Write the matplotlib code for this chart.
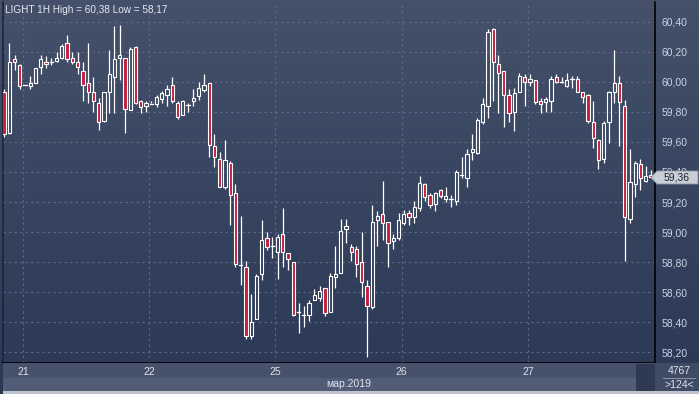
import numpy as np
import matplotlib
matplotlib.use("Agg")
import matplotlib.pyplot as plt
from matplotlib.patches import Rectangle, Polygon

# hourly candles, LIGHT 1H
opens = [59.93, 59.66, 60.15, 60.11, 59.98, 59.975, 59.99, 60.10, 60.135, 60.13,
         60.14, 60.16, 60.26, 60.16, 60.13, 60.075, 59.99, 59.93, 59.86, 59.74,
         59.935, 60.03, 60.16, 60.16, 59.81, 60.23, 59.87, 59.84, 59.855, 59.85,
         59.885, 59.91, 59.98, 59.86, 59.78, 59.845, 59.87, 59.905, 59.945, 59.99,
         59.57, 59.485, 59.30, 59.46, 59.26, 58.78, 58.77, 58.31, 58.42, 58.72,
         58.96, 58.91, 58.87, 58.99, 58.86, 58.80, 58.47, 58.45, 58.45, 58.55,
         58.56, 58.63, 58.47, 58.70, 58.73, 59.02, 58.90, 58.89, 58.80, 58.64,
         58.50, 59.08, 59.12, 59.065, 58.94, 58.96, 59.06, 59.13, 59.10, 59.16,
         59.32, 59.25, 59.19, 59.28, 59.22, 59.22, 59.21, 59.38, 59.36, 59.53,
         59.525, 59.73, 59.84, 60.35, 60.12, 60.07, 59.91, 59.80, 59.935, 60.03,
         60.00, 60.01, 59.875, 59.865, 59.87, 60.03, 60.00, 59.975, 60.02, 60.02,
         59.93, 59.91, 59.735, 59.61, 59.485, 59.73, 59.93, 59.99, 59.84, 59.085,
         59.32, 59.45, 59.34, 59.38]
highs = [59.95, 60.26, 60.18, 60.12, 59.98, 60.04, 60.09, 60.18, 60.17, 60.16,
         60.20, 60.25, 60.31, 60.20, 60.20, 60.135, 60.26, 60.035, 59.89, 59.93,
         60.21, 60.37, 60.38, 60.16, 60.23, 60.24, 59.88, 59.87, 59.87, 59.91,
         59.94, 59.98, 60.035, 59.87, 59.88, 59.86, 59.95, 60.00, 60.05, 59.99,
         59.65, 59.53, 59.61, 59.47, 59.32, 59.11, 58.81, 58.59, 58.72, 59.08,
         59.00, 58.97, 58.99, 59.16, 58.86, 58.80, 58.53, 58.51, 58.55, 58.62,
         58.64, 58.63, 58.73, 58.91, 59.09, 59.09, 58.92, 58.91, 59.00, 58.68,
         59.18, 59.14, 59.34, 59.07, 58.99, 59.13, 59.15, 59.15, 59.21, 59.37,
         59.33, 59.26, 59.27, 59.29, 59.30, 59.25, 59.41, 59.50, 59.55, 59.65,
         59.76, 59.89, 60.35, 60.36, 60.18, 60.07, 59.95, 59.96, 60.06, 60.05,
         60.05, 60.01, 59.89, 59.90, 60.04, 60.05, 60.03, 60.06, 60.04, 60.04,
         59.93, 59.92, 59.87, 59.62, 59.74, 59.94, 60.21, 60.04, 59.88, 59.55,
         59.47, 59.485, 59.44, 59.41]
lows = [59.63, 59.65, 60.08, 59.95, 59.97, 59.95, 59.99, 60.05, 60.09, 60.11,
        60.13, 60.15, 60.135, 60.12, 60.05, 59.87, 59.86, 59.80, 59.68, 59.73,
        59.79, 59.79, 60.01, 59.66, 59.81, 59.85, 59.79, 59.80, 59.85, 59.83,
        59.86, 59.84, 59.86, 59.75, 59.78, 59.80, 59.84, 59.88, 59.935, 59.50,
        59.43, 59.30, 59.29, 59.05, 58.77, 58.65, 58.29, 58.29, 58.42, 58.68,
        58.88, 58.83, 58.69, 58.77, 58.75, 58.44, 58.33, 58.37, 58.41, 58.55,
        58.54, 58.44, 58.47, 58.63, 58.73, 58.93, 58.81, 58.70, 58.57, 58.17,
        58.49, 58.91, 58.95, 58.77, 58.89, 58.95, 59.05, 59.05, 59.06, 59.14,
        59.21, 59.16, 59.14, 59.23, 59.20, 59.165, 59.18, 59.36, 59.30, 59.48,
        59.52, 59.72, 59.76, 59.87, 59.79, 59.70, 59.73, 59.67, 59.93, 59.84,
        59.97, 59.85, 59.79, 59.80, 59.80, 59.99, 59.99, 59.965, 59.96, 59.93,
        59.86, 59.725, 59.56, 59.42, 59.46, 59.59, 59.86, 59.57, 58.81, 59.06,
        59.235, 59.28, 59.335, 59.36]
closes = [59.65, 60.135, 60.13, 59.975, 59.975, 59.99, 60.09, 60.15, 60.118, 60.135,
          60.16, 60.24, 60.15, 60.135, 60.10, 59.98, 59.935, 59.87, 59.735, 59.93,
          60.05, 60.15, 60.18, 59.82, 60.22, 59.86, 59.83, 59.86, 59.86, 59.90,
          59.925, 59.955, 59.875, 59.765, 59.87, 59.845, 59.89, 59.96, 59.98, 59.58,
          59.50, 59.30, 59.48, 59.25, 58.79, 58.78, 58.31, 58.40, 58.71, 58.95,
          58.90, 58.91, 58.97, 58.87, 58.82, 58.45, 58.47, 58.445, 58.53, 58.58,
          58.61, 58.46, 58.71, 58.72, 59.01, 59.04, 58.87, 58.79, 58.67, 58.51,
          59.07, 59.11, 59.06, 58.93, 58.96, 59.08, 59.12, 59.10, 59.165, 59.325,
          59.235, 59.18, 59.26, 59.24, 59.24, 59.22, 59.40, 59.38, 59.52, 59.55,
          59.745, 59.855, 60.335, 60.13, 60.06, 59.91, 59.79, 59.925, 60.04, 60.00,
          60.02, 59.865, 59.855, 59.885, 60.02, 60.00, 60.00, 60.01, 60.02, 59.935,
          59.90, 59.74, 59.625, 59.48, 59.725, 59.935, 59.995, 59.865, 59.10, 59.335,
          59.46, 59.36, 59.37, 59.365]

day_labels = ["21", "22", "25", "26", "27"]
day_start = [4, 28, 52, 76, 100]
price_ticks = [58.2, 58.4, 58.6, 58.8, 59.0, 59.2, 59.4, 59.6, 59.8, 60.0, 60.2, 60.4]
title = "LIGHT 1H High = 60,38 Low = 58,17"
month_label = "мар.2019"
last_price = 59.36

W, H = 699, 394
RED = "#c41e3a"
plt.rcParams['font.family'] = ['Liberation Sans', 'DejaVu Sans']

fig = plt.figure(figsize=(W / 100, H / 100), dpi=100)


def box(x0, y0, x1, y1):
    # pixel box (top-left origin) -> figure fraction rect
    return [x0 / W, 1 - y1 / H, (x1 - x0) / W, (y1 - y0) / H]


# background gradient
bg = fig.add_axes([0, 0, 1, 1])
bg.set_axis_off()
top = np.array([0x45, 0x51, 0x6a]) / 255
bot = np.array([0x2a, 0x38, 0x56]) / 255
t = np.linspace(0, 1, 256)[:, None]
grad = top * (1 - t) + bot * t
bg.imshow(grad[:, None, :].repeat(2, axis=1), aspect="auto", extent=[0, 1, 0, 1])
bg.set_xlim(0, 1)
bg.set_ylim(0, 1)

# main chart
ax = fig.add_axes(box(3, 2, 655, 363))
ax.set_facecolor("none")
n = len(opens)
ax.set_xlim(-0.19, n - 0.24)
ax.set_ylim(58.127, 60.533)

for p in price_ticks:
    ax.axhline(p, color="#5c6b89", lw=0.8, ls=(0, (2, 3)), zorder=1)
for d in day_start:
    ax.axvline(d - 0.4, color="#5c6b89", lw=0.8, ls=(0, (2, 3)), zorder=1)

bw = 0.62
for i in range(n):
    o, h, l, c = opens[i], highs[i], lows[i], closes[i]
    lo_b, hi_b = min(o, c), max(o, c)
    ax.plot([i, i], [hi_b, h], color="white", lw=0.9, zorder=3, solid_capstyle="butt")
    ax.plot([i, i], [l, lo_b], color="white", lw=0.9, zorder=3, solid_capstyle="butt")
    if hi_b - lo_b < 0.008:
        ax.plot([i - bw / 2, i + bw / 2], [o, o], color="white", lw=0.9, zorder=3)
    else:
        fc = RED if c < o else "none"
        ax.add_patch(Rectangle((i - bw / 2, lo_b), bw, hi_b - lo_b, facecolor=fc,
                               edgecolor="white", lw=0.8, zorder=4))

ax.set_xticks([])
ax.set_yticks(price_ticks)
ax.set_yticklabels([f"{p:.2f}".replace(".", ",") for p in price_ticks])
ax.yaxis.tick_right()
ax.tick_params(axis="y", length=0, pad=5, labelsize=7.5, labelcolor="#c9d3e4")
for s in ["top"]:
    ax.spines[s].set_visible(False)
ax.spines["right"].set_color("black")
ax.spines["bottom"].set_color("black")
ax.spines["left"].set_color("#1d2436")
for s in ["right", "bottom", "left"]:
    ax.spines[s].set_linewidth(1.2)

ax.text(0.003, 0.992, title, transform=ax.transAxes, ha="left", va="top",
        fontsize=7.2, color="#e4e8f0")

# last price marker
lbl = fig.add_axes(box(651, 170, 699, 185))
lbl.set_axis_off()
lbl.set_xlim(0, 48)
lbl.set_ylim(0, 15)
lbl.add_patch(Polygon([[0, 7.5], [6, 14], [47, 14], [47, 1], [6, 1]],
                      closed=True, facecolor="#c8cdd6", edgecolor="#8d94a3", lw=0.6))
lbl.text(26, 7.5, f"{last_price:.2f}".replace(".", ","), ha="center", va="center",
         fontsize=7.5, color="#1b2233")

# bottom date strip
strip = fig.add_axes(box(3, 363, 655, 394))
strip.set_xlim(-0.19, n - 0.24)
strip.set_ylim(31, 0)
strip.set_axis_off()
strip.add_patch(Rectangle((-0.19, 0), n, 15, facecolor="#46516b", edgecolor="none"))
strip.add_patch(Rectangle((-0.19, 15), n, 13, facecolor="#515d77", edgecolor="none"))
strip.add_patch(Rectangle((-0.19, 28), n + 1, 4, facecolor="#bfc3cb", edgecolor="none"))
strip.add_patch(Rectangle((n - 3.8, 1), 4, 27, facecolor="#2e3a54", edgecolor="none"))
for lab, d in zip(day_labels, day_start):
    strip.text(d - 0.4, 9, lab, ha="center", va="center", fontsize=7.5, color="#dfe4ee")
strip.text(65.5, 21, month_label, ha="center", va="center", fontsize=7.5, color="#dfe4ee")

# bottom right info box
info = fig.add_axes(box(655, 363, 699, 394))
info.set_xlim(0, 44)
info.set_ylim(31, 0)
info.set_axis_off()
info.add_patch(Rectangle((0, 0), 44, 28, facecolor="#3f4a64", edgecolor="none"))
info.add_patch(Rectangle((0, 28), 44, 4, facecolor="#bfc3cb", edgecolor="none"))
info.plot([8, 40], [15, 15], color="#9aa4b8", lw=0.6)
info.text(24, 8, "4767", ha="center", va="center", fontsize=7.5, color="#dfe4ee")
info.text(24, 21.5, ">124<", ha="center", va="center", fontsize=7.5, color="#dfe4ee")

fig.savefig("out.png", dpi=100)
